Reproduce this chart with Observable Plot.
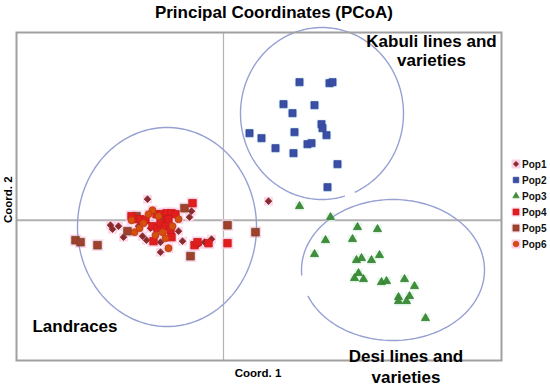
<!DOCTYPE html>
<html>
<head>
<meta charset="utf-8">
<script src="https://cdn.jsdelivr.net/npm/d3@7"></script>
<script src="https://cdn.jsdelivr.net/npm/@observablehq/plot@0.6"></script>
<style>
  html, body { margin: 0; padding: 0; background: #fff; }
  #wrap { position: relative; width: 550px; height: 386px; font-family: "Liberation Sans", Arial, sans-serif; }
  #wrap svg { display: block; }
  .lg-row { position: absolute; left: 510px; height: 12px; display: flex; align-items: center; font-size: 10px; font-weight: bold; color: #111; }
</style>
</head>
<body>
<div id="wrap"></div>
<script>
// ---- data (Coord. 1, Coord. 2 scores) ----
const pop1 = [[-0.76,0.21],[-1.13,-0.05],[-1.05,-0.06],[-1.11,-0.09],[-1.00,-0.17],[-0.81,-0.16],[-0.77,-0.20],[-0.63,-0.22],[-0.45,-0.11],[-0.41,-0.21],[-0.34,0.03],[-0.32,0.09],[-0.25,-0.24],[-0.12,-0.19],[-0.19,-0.22],[-0.63,-0.32],[0.45,0.19],[-0.73,-0.08],[-0.85,-0.06],[-0.58,-0.02]];
const pop2 = [[0.76,1.38],[1.06,1.37],[1.09,1.38],[0.60,1.16],[0.91,1.15],[0.69,1.07],[0.98,0.96],[0.99,0.92],[1.03,0.85],[0.71,0.88],[0.26,0.87],[0.38,0.82],[0.84,0.76],[0.88,0.77],[0.52,0.72],[0.70,0.67],[1.14,0.56],[1.04,0.33]];
const pop3 = [[0.76,0.14],[1.07,0.03],[1.34,-0.07],[1.54,-0.09],[1.02,-0.20],[1.29,-0.19],[0.91,-0.34],[1.56,-0.35],[1.33,-0.40],[1.38,-0.38],[1.48,-0.40],[1.35,-0.53],[1.31,-0.58],[1.40,-0.59],[1.58,-0.62],[1.63,-0.61],[1.81,-0.59],[1.91,-0.66],[1.75,-0.77],[1.86,-0.76],[1.75,-0.81],[1.83,-0.81],[2.02,-0.98]];
const pop4 = [[-0.67,0.06],[-0.62,0.06],[-0.57,0.07],[-0.52,0.07],[-0.48,0.06],[-0.88,0.01],[-0.83,0.01],[-0.78,0.00],[-0.71,-0.06],[-0.66,-0.08],[-0.63,-0.03],[-0.58,-0.06],[-0.53,-0.10],[-0.70,-0.21],[-0.52,-0.17],[-0.29,-0.25],[-0.26,-0.22],[-0.15,-0.23],[0.04,-0.23],[-0.31,0.17],[-0.55,0.01],[-0.92,0.04]];
const pop5 = [[-0.39,0.12],[0.04,-0.05],[0.32,-0.12],[-1.48,-0.20],[-1.43,-0.22],[-1.26,-0.25],[-0.96,-0.11],[-0.33,-0.36],[-0.87,0.04],[-0.61,0.03]];
const pop6 = [[-0.71,0.10],[-0.75,0.06],[-0.92,0.00],[-0.89,-0.12],[-0.84,-0.08],[-0.65,0.04],[-0.61,-0.12],[-0.55,-0.28],[-0.51,-0.06],[-0.80,-0.03],[-0.68,-0.15],[-0.58,-0.18],[-0.45,0.01]];

const popNames = ["Pop1","Pop2","Pop3","Pop4","Pop5","Pop6"];

// group ellipses drawn on the chart
const ellipseNames = ["Landraces","Kabuli","Desi"];
const ellipseCx = [-0.565, 0.985, 1.695];
const ellipseCy = [-0.068, 1.067, -0.498];
const ellipseRx = [0.895, 0.815, 0.915];
const ellipseRy = [0.995, 0.86, 0.705];
const ellipseGapFrom = [null, -72, -175];
const ellipseGapTo = [null, -68, -159];

// annotation texts
const labelTexts = ["Kabuli lines and","varieties","Landraces","Desi lines and","varieties"];
const labelX = [2.08, 2.08, -1.485, 1.825, 1.825];
const labelY = [1.737, 1.547, -1.113, -1.413, -1.623];

const titleText = "Principal Coordinates (PCoA)";
const xLabel = "Coord. 1";
const yLabel = "Coord. 2";

// ---- build ----
const toRows = (arr, pop) => arr.map(([x, y]) => ({x, y, pop}));
const d1 = toRows(pop1, "Pop1"), d2 = toRows(pop2, "Pop2"), d3r = toRows(pop3, "Pop3"),
      d4 = toRows(pop4, "Pop4"), d5 = toRows(pop5, "Pop5"), d6 = toRows(pop6, "Pop6");

const ellipseRows = [];
ellipseNames.forEach((name, i) => {
  for (let a = -180; a <= 180; a += 2) {
    const inGap = ellipseGapFrom[i] !== null && a >= ellipseGapFrom[i] && a <= ellipseGapTo[i];
    const t = a * Math.PI / 180;
    ellipseRows.push({
      name,
      x: inGap ? NaN : ellipseCx[i] + ellipseRx[i] * Math.cos(t),
      y: inGap ? NaN : ellipseCy[i] + ellipseRy[i] * Math.sin(t)
    });
  }
});

const labels = labelTexts.map((text, i) => ({text, x: labelX[i], y: labelY[i]}));

const styleP = {
  Pop1: {symbol: "diamond2", r: 3, fill: "#862c2c", stroke: "#862c2c", halo: "#fbd0e6"},
  Pop2: {symbol: "square", r: 4, fill: "#3b4ea5", stroke: "#34469a", halo: "#dcf3f8"},
  Pop3: {symbol: "triangle", r: 3, fill: "#3f8f3a", stroke: "#357f31", halo: "#e0f6e6"},
  Pop4: {symbol: "square", r: 4.2, fill: "#e21d1d", stroke: "#c81a1a", halo: "#fbd0e6"},
  Pop5: {symbol: "square", r: 4.3, fill: "#a3402c", stroke: "#6e4c29", halo: "#fbd0e6"},
  Pop6: {symbol: "circle", r: 3.5, fill: "#d4500f", stroke: "#c0330e", halo: "#fbd0e6"}
};

const halo = (data, pop, r) => Plot.dot(data, {x: "x", y: "y", symbol: "square", r, fill: styleP[pop].halo, fillOpacity: 0.85, stroke: null});
const pts = (data, pop) => Plot.dot(data, {x: "x", y: "y", symbol: styleP[pop].symbol, r: styleP[pop].r, fill: styleP[pop].fill, stroke: styleP[pop].stroke, strokeWidth: 0.8});

const chart = Plot.plot({
  width: 550,
  height: 386,
  marginLeft: 16,
  marginRight: 49,
  marginTop: 32,
  marginBottom: 26,
  x: {domain: [-2.07, 2.78], axis: null},
  y: {domain: [-1.403, 1.877], axis: null},
  style: {fontFamily: "'Liberation Sans', Arial, sans-serif", background: "white", overflow: "visible"},
  marks: [
    Plot.ruleX([0], {stroke: "#b4b4b4", strokeWidth: 1.2}),
    Plot.ruleY([0], {stroke: "#b0b0b0", strokeWidth: 2}),
    halo(d2, "Pop2", 5.5), halo(d3r, "Pop3", 5),
    halo(d1, "Pop1", 5), halo(d4, "Pop4", 6.5), halo(d5, "Pop5", 6.5), halo(d6, "Pop6", 5.5),
    Plot.line(ellipseRows, {x: "x", y: "y", z: "name", stroke: "#97a0d3", strokeWidth: 1.4}),
    pts(d2, "Pop2"), pts(d3r, "Pop3"),
    pts(d1, "Pop1"), pts(d5, "Pop5"), pts(d4, "Pop4"), pts(d6, "Pop6"),
    Plot.frame({stroke: "#a0a0a0", strokeWidth: 2}),
    Plot.text(labels, {x: "x", y: "y", text: "text", fontSize: 17, fontWeight: "bold", fill: "#000", lineAnchor: "bottom"}),
    Plot.text([titleText], {x: () => 0.504, y: () => 2.022, text: d => d, fontSize: 17, fontWeight: "bold", fill: "#000", lineAnchor: "bottom"}),
    Plot.text([xLabel], {x: () => 0.345, y: () => -1.563, text: d => d, fontSize: 11.5, fontWeight: "bold", fill: "#000", lineAnchor: "bottom"}),
    Plot.text([yLabel], {x: () => -2.155, y: () => 0.205, text: d => d, fontSize: 11.5, fontWeight: "bold", fill: "#000", rotate: -90})
  ]
});

const wrap = document.getElementById("wrap");
wrap.appendChild(chart);

// legend
const symMap = {diamond2: d3.symbolDiamond2, square: d3.symbolSquare, triangle: d3.symbolTriangle, circle: d3.symbolCircle};
popNames.forEach((p, i) => {
  const row = document.createElement("div");
  row.className = "lg-row";
  row.style.top = (164 + 16 * i - 6) + "px";
  const s = styleP[p];
  const svg = d3.create("svg").attr("width", 12).attr("height", 12);
  if (s.halo === "#fbd0e6") svg.append("rect").attr("x", 1.5).attr("y", 1.5).attr("width", 9).attr("height", 9).attr("fill", s.halo);
  const size = Math.PI * Math.pow(s.r * 0.8, 2);
  svg.append("path").attr("transform", "translate(6,6)").attr("d", d3.symbol(symMap[s.symbol], size)()).attr("fill", s.fill).attr("stroke", s.stroke).attr("stroke-width", 0.6);
  row.appendChild(svg.node());
  const t = document.createElement("span");
  t.textContent = p;
  row.appendChild(t);
  wrap.appendChild(row);
});
</script>
</body>
</html>
